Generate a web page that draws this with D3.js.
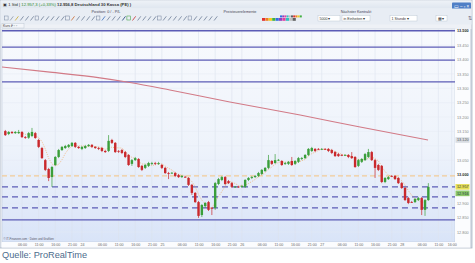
<!DOCTYPE html>
<html><head><meta charset="utf-8">
<script src="https://cdn.jsdelivr.net/npm/d3@7"></script>
<style>body{margin:0;background:#fff}svg{display:block}text{font-family:"Liberation Sans",Arial,sans-serif}</style>
</head><body><svg id="c" width="475" height="263"></svg>
<script>
// ---------- data ----------
const openP=[13151,13141,13148,13144,13144,13148,13130,13128,13134,13144,13120,13092,13050,13019,12991,13033,13061,13085,13092,13096,13099,13110,13096,13089,13092,13099,13103,13096,13092,13092,13082,13082,13120,13110,13082,13085,13078,13068,13037,13050,13054,13030,13023,13030,13037,13040,13037,13033,13023,13005,13005,13005,12998,12991,12992,12988,12964,12936,12904,12859,12890,12904,12884,12884,12967,12981,12991,12977,12970,12957,12958,12957,12957,12981,12988,12991,12995,13002,13012,13023,13047,13040,13050,13047,13037,13037,13047,13037,13044,13054,13057,13068,13082,13089,13089,13088,13089,13089,13085,13078,13071,13068,13067,13068,13064,13061,13030,13044,13050,13061,13078,13050,13033,13030,12974,12984,12995,12995,12988,12970,12953,12918,12904,12904,12911,12918,12877,12911];
const closeP=[13137,13148,13144,13148,13148,13130,13128,13144,13148,13127,13096,13057,13016,12988,13026,13061,13085,13096,13099,13103,13110,13096,13092,13096,13099,13103,13096,13092,13089,13082,13078,13117,13110,13078,13080,13075,13061,13033,13050,13057,13026,13016,13033,13040,13040,13038,13040,13023,13005,13003,13006,12995,12991,12995,12991,12964,12936,12904,12856,12894,12901,12877,12882,12970,12984,12991,12967,12970,12957,12958,12957,12960,12981,12988,12991,12995,13005,13016,13023,13050,13037,13050,13051,13033,13040,13044,13033,13047,13057,13057,13068,13089,13092,13082,13088,13089,13088,13082,13075,13064,13064,13067,13068,13061,13057,13026,13050,13054,13071,13078,13050,13023,13016,12974,12988,12991,12994,12984,12970,12953,12911,12901,12903,12915,12918,12877,12911,12957];
const highP=[13155,13151,13151,13151,13155,13151,13134,13148,13162,13148,13124,13096,13054,13023,13030,13064,13089,13099,13103,13106,13113,13113,13099,13099,13103,13106,13106,13099,13096,13096,13085,13137,13124,13113,13085,13089,13082,13071,13054,13061,13057,13033,13037,13044,13044,13044,13044,13037,13026,13009,13009,13009,13002,12998,12995,12991,12967,12939,12908,12897,12904,12908,12887,12974,12988,12995,12995,12981,12974,12960,12960,12964,12984,12991,12995,12998,13009,13019,13026,13068,13050,13071,13054,13050,13044,13047,13061,13050,13061,13061,13071,13092,13096,13092,13092,13092,13092,13092,13089,13082,13075,13071,13071,13071,13078,13064,13054,13057,13075,13089,13082,13054,13037,13033,12991,12995,12998,12998,12991,12974,12957,12922,12908,12918,12922,12922,12915,12970];
const lowP=[13134,13137,13141,13141,13141,13127,13124,13124,13130,13124,13092,13054,13012,12977,12957,13030,13057,13082,13089,13092,13096,13092,13089,13085,13089,13096,13092,13089,13085,13078,13075,13078,13106,13075,13075,13071,13057,13030,13030,13047,13023,13012,13019,13026,13033,13033,13033,13019,13002,12984,13002,12991,12988,12988,12988,12960,12929,12901,12849,12852,12884,12873,12859,12877,12963,12977,12963,12967,12953,12953,12953,12953,12953,12977,12984,12988,12991,12998,13009,13019,13033,13037,13047,13030,13033,13033,13030,13033,13040,13050,13054,13064,13078,13078,13085,13085,13085,13078,13071,13061,13061,13064,13064,13057,13054,13023,13026,13040,13047,13057,13047,12988,13012,12970,12970,12981,12991,12981,12967,12950,12908,12897,12901,12901,12908,12859,12856,12908];
const maHours=[0,14.4,29.4,38.4,50.4,68.4,89.5,107.5,127.9];
const maValues=[13374,13356,13336,13320,13294,13252,13207,13165,13120];
const solidLevels=[13500,13443,13398,13322,12842];
const dashedLevels=[12957,12922,12884];
const keyLevels=[12995];
const yTickValues=[12800,12850,12900,12950,13000,13050,13100,13150,13200,13250,13300,13350,13400,13450,13500];
const boldTicks=[13000,13500];
const xTickHours=[6,11,16,21,24,30,35,40,45,48,54,59,64,69,72,78,83,88,93,96,102,107,112,117,120,126,131,135];
const xTickLabels=["06:00","11:00","16:00","21:00","24","06:00","11:00","16:00","21:00","25","06:00","11:00","16:00","21:00","26","06:00","11:00","16:00","21:00","27","06:00","11:00","16:00","21:00","28","06:00","11:00","16:00"];
const smaPeriod=5;

// ---------- layout ----------
const svg=d3.select("#c");
const L=2,R=455,T=29,B=242;
const x=d3.scaleLinear().domain([0,136]).range([L,R]);
const y=d3.scaleLinear().domain([12800,13500]).range([232,30.75]);
const fmt=d3.formatLocale({decimal:",",thousands:".",grouping:[3],currency:["","€"]}).format(",.0f");

const defs=svg.append("defs");
const g1=defs.append("linearGradient").attr("id","bg").attr("x1",0).attr("y1",0).attr("x2",0).attr("y2",1);
g1.append("stop").attr("offset","0%").attr("stop-color","#f8fafd");
g1.append("stop").attr("offset","55%").attr("stop-color","#eef3fb");
g1.append("stop").attr("offset","100%").attr("stop-color","#d9e4f8");
const g2=defs.append("linearGradient").attr("id","hdr").attr("x1",0).attr("y1",0).attr("x2",0).attr("y2",1);
g2.append("stop").attr("offset","0%").attr("stop-color","#eef2f7");
g2.append("stop").attr("offset","100%").attr("stop-color","#dfe6ef");
defs.append("clipPath").attr("id","plot").append("rect").attr("x",L).attr("y",T).attr("width",R-L).attr("height",B-T);

// window frame
svg.append("rect").attr("x",0).attr("y",0).attr("width",472).attr("height",248).attr("fill","#eef1f6").attr("stroke","#aab6c6").attr("stroke-width",0.8);
// title bar
svg.append("rect").attr("x",0.5).attr("y",0.5).attr("width",471).attr("height",8).attr("fill","url(#hdr)");
const tt=svg.append("text").attr("x",3).attr("y",6).attr("font-size",4.2).attr("fill","#333");
tt.append("tspan").text("▣ 1 Std  |  ");
tt.append("tspan").attr("fill","#2e8a2e").text("12.957,3 (+0,33%) ");
tt.append("tspan").attr("font-weight","bold").text("12.956,8 Deutschland 30 Kassa (PE) )");
svg.append("rect").attr("x",452).attr("y",2.5).attr("width",19).attr("height",7).attr("fill","#4f7fc6").attr("rx",0.8);
svg.append("text").attr("x",461.5).attr("y",8).attr("text-anchor","middle").attr("font-size",4.5).attr("fill","#fff").text("▭ – ▫ ×");
// row 2
svg.append("rect").attr("x",0.5).attr("y",8.5).attr("width",471).attr("height",16).attr("fill","#e8edf4");
[["Position: 0 / - P/L",106],["Preisteuerelemente",240],["Nächster Kontrakt",356]].forEach(([t,cx])=>{
  svg.append("text").attr("x",cx).attr("y",13.2).attr("text-anchor","middle").attr("font-size",3.8).attr("fill","#445").text(t);
});
// toolbar icons
const iconCols=["#7a8aa2","#8a96aa","#c8a830","#6f7f98","#6f7f98","#6f7f98","#6f7f98","#6f7f98","#6f7f98","#6f7f98","#6f7f98","#6f7f98","#6f7f98","#c86a30","#6f7f98","#6f7f98","#6f7f98","#6f7f98","#6f7f98","#3a6fc0","#6f7f98","#6f7f98","#6f7f98","#1d3f7a","#2e9a2e","#c83030","#6f7f98","#6f7f98","#6f7f98","#6f7f98","#6f7f98","#6f7f98","#6f7f98","#6f7f98","#6f7f98","#6f7f98","#6f7f98","#6f7f98","#6f7f98","#6f7f98","#6f7f98","#6f7f98"];
iconCols.forEach((c,i)=>{
  const gx=5+i*5.1;
  if(i%6===0) svg.append("rect").attr("x",gx-0.5).attr("y",16).attr("width",3.6).attr("height",4).attr("fill","none").attr("stroke",c).attr("stroke-width",0.5);
  else svg.append("path").attr("d",`M${gx},${20.5}L${gx+3.2},${16.3}`).attr("stroke",c).attr("stroke-width",0.8);
});
// palette
const pal=["#e03030","#f08020","#f0d020","#40b040","#3070e0","#9040c0","#e040a0","#30c0c0","#c0c0c0","#606060"];
pal.forEach((c,i)=>{
  svg.append("rect").attr("x",262+i*3.4).attr("y",18).attr("width",3.2).attr("height",2.8).attr("fill",c);
  svg.append("rect").attr("x",280+i*2.2).attr("y",15.4).attr("width",2).attr("height",2).attr("fill",pal[(i+4)%pal.length]);
});
// input boxes
[[318,22,"5000 ▾"],[342,28,"in Einheiten  ▾"],[390,27,"1 Stunde    ▾"],[436,11,"▦ ▾"]].forEach(([bx,bw,t])=>{
  svg.append("rect").attr("x",bx).attr("y",15.5).attr("width",bw).attr("height",5.5).attr("fill","#fff").attr("stroke","#b6c0ce").attr("stroke-width",0.4);
  svg.append("text").attr("x",bx+1.5).attr("y",19.8).attr("font-size",3.6).attr("fill","#333").text(t);
});
svg.append("text").attr("x",468).attr("y",20).attr("font-size",4.5).attr("fill","#667").text("⇅");
// row 4
svg.append("rect").attr("x",2).attr("y",23.5).attr("width",22).attr("height",4.5).attr("fill","#f4f6fa").attr("stroke","#b6c0ce").attr("stroke-width",0.4);
svg.append("text").attr("x",3).attr("y",27.2).attr("font-size",3.4).attr("fill","#333").text("Kurs ₽ ▫ ▫");

// plot background
svg.append("rect").attr("x",L).attr("y",T).attr("width",R-L).attr("height",B-T).attr("fill","url(#bg)").attr("stroke","#b9c4d4").attr("stroke-width",0.5);
// right axis + bottom axis backgrounds
svg.append("rect").attr("x",R).attr("y",T).attr("width",16).attr("height",B-T).attr("fill","#fbfcfe");
svg.append("rect").attr("x",L).attr("y",B).attr("width",R-L+16).attr("height",5.5).attr("fill","#fbfcfe");
svg.append("line").attr("x1",471).attr("x2",471).attr("y1",T).attr("y2",248).attr("stroke","#aab6c6").attr("stroke-width",0.8);

const plot=svg.append("g").attr("clip-path","url(#plot)");
// grid
plot.selectAll(".vg").data(xTickHours).join("line").attr("x1",d=>x(d)).attr("x2",d=>x(d)).attr("y1",T).attr("y2",B).attr("stroke","#dbe3ee").attr("stroke-width",0.6);
plot.selectAll(".hg").data(yTickValues).join("line").attr("x1",L).attr("x2",R).attr("y1",d=>y(d)).attr("y2",d=>y(d)).attr("stroke","#e3e9f2").attr("stroke-width",0.4);

// levels
plot.selectAll(".sl").data(solidLevels).join("line").attr("x1",L).attr("x2",R).attr("y1",d=>y(d)).attr("y2",d=>y(d)).attr("stroke","#5c5cb6").attr("stroke-width",1.3);
plot.selectAll(".kl").data(keyLevels).join("line").attr("x1",L).attr("x2",R).attr("y1",d=>y(d)).attr("y2",d=>y(d)).attr("stroke","#f2cc98").attr("stroke-width",1.2).attr("stroke-dasharray","5,3");
plot.selectAll(".dl").data(dashedLevels).join("line").attr("x1",L).attr("x2",R).attr("y1",d=>y(d)).attr("y2",d=>y(d)).attr("stroke","#5c5cb6").attr("stroke-width",1.2).attr("stroke-dasharray","6,4");

// long moving average
const maData=maHours.map((h,i)=>[h,maValues[i]]);
plot.append("path").datum(maData).attr("fill","none").attr("stroke","#d27a86").attr("stroke-width",1.1)
  .attr("d",d3.line().x(d=>x(d[0])).y(d=>y(d[1])).curve(d3.curveMonotoneX));

// short SMA of closes (dotted)
const candles=closeP.map((c,i)=>({h:i+1,o:openP[i],hi:highP[i],lo:lowP[i],c}));
const sma=candles.map((d,i)=>i<smaPeriod-1?null:[d.h,d3.mean(closeP.slice(i-smaPeriod+1,i+1))]).filter(Boolean);
plot.append("path").datum(sma).attr("fill","none").attr("stroke","#f0a860").attr("stroke-width",0.7).attr("stroke-dasharray","1,1.2")
  .attr("d",d3.line().x(d=>x(d[0])).y(d=>y(d[1])));

// candles
const up="#3a9e3a",dn="#c9282c";
const cg=plot.selectAll(".cd").data(candles).join("g");
cg.append("line").attr("x1",d=>x(d.h)).attr("x2",d=>x(d.h)).attr("y1",d=>y(d.hi)).attr("y2",d=>y(d.lo))
  .attr("stroke",d=>d.c>=d.o?up:dn).attr("stroke-width",0.7);
cg.append("rect").attr("x",d=>x(d.h)-1.2).attr("width",2.4)
  .attr("y",d=>y(Math.max(d.o,d.c))).attr("height",d=>Math.max(0.8,Math.abs(y(d.o)-y(d.c))))
  .attr("fill",d=>d.c>=d.o?up:dn);

// price tags (positions)
const last=candles[candles.length-1];
const smaLast=sma[sma.length-1][1];
const maLast=maValues[maValues.length-1];
const tags=[[maLast,y(maLast),"#d8dce2","#555"],[last.c,y(last.c),"#e6df58","#333"],[smaLast,y(last.c)+6.5,"#8cc86a","#234"]];

// y axis (right), hiding tick labels covered by tags
const yAxis=d3.axisRight(y).tickValues(yTickValues).tickSize(0).tickPadding(2).tickFormat(fmt);
const ya=svg.append("g").attr("transform",`translate(${R},0)`).call(yAxis);
ya.select(".domain").remove();
ya.selectAll("text").attr("font-size",3.8).attr("font-family","Liberation Sans,Arial,sans-serif")
  .attr("fill",d=>boldTicks.includes(d)?"#222":"#888").attr("font-weight",d=>boldTicks.includes(d)?"bold":"normal")
  .style("display",d=>tags.some(t=>Math.abs(t[1]-y(d))<6)?"none":null);

tags.forEach(([v,yy,fill,col])=>{
  svg.append("rect").attr("x",R+0.5).attr("y",yy-2.8).attr("width",14).attr("height",5.6).attr("fill",fill);
  svg.append("text").attr("x",R+2).attr("y",yy+1.4).attr("font-size",3.8).attr("fill",col).text(fmt(v));
});

// x axis
const xAxis=d3.axisBottom(x).tickValues(xTickHours).tickSize(0).tickPadding(1).tickFormat((d,i)=>xTickLabels[i]);
const xa=svg.append("g").attr("transform",`translate(0,${B})`).call(xAxis);
xa.select(".domain").remove();
xa.selectAll("text").attr("font-size",3.6).attr("font-family","Liberation Sans,Arial,sans-serif").attr("fill","#666");

svg.append("text").attr("x",3.5).attr("y",240).attr("font-size",2.8).attr("fill","#556").text("© IT-Finanzen.com · Daten und Grafiken");

// footer
svg.append("text").attr("x",2).attr("y",258).attr("font-size",9.5).attr("font-family","Open Sans,Noto Sans,sans-serif")
  .attr("fill","#4d6c8c").attr("textLength",85).attr("lengthAdjust","spacingAndGlyphs").text("Quelle: ProRealTime");
</script></body></html>
